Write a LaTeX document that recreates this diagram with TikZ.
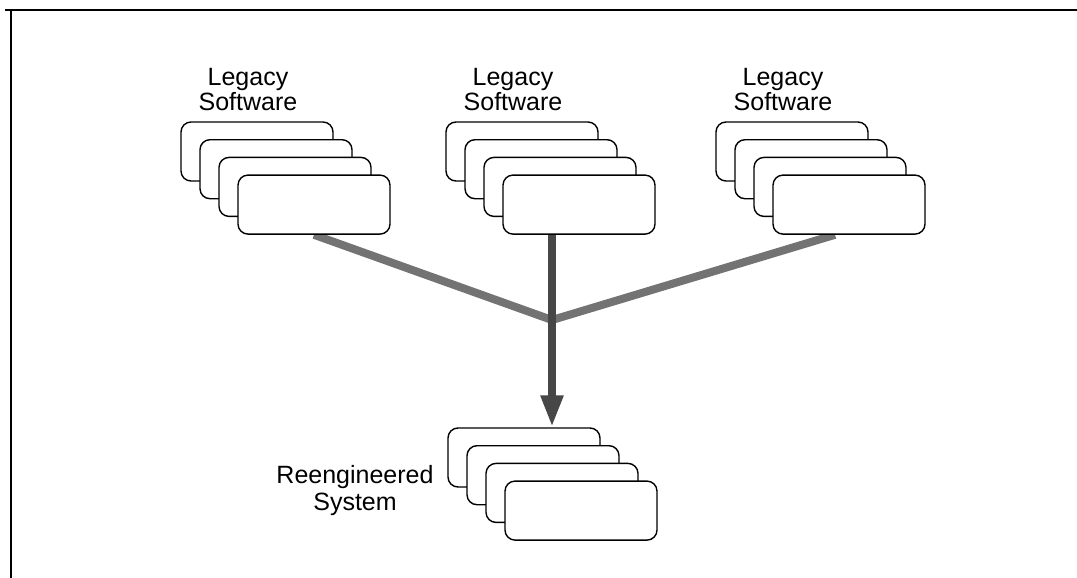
\documentclass[tikz,border=0pt]{standalone}
\usepackage{fontspec}
\setmainfont{Liberation Sans}
\usetikzlibrary{arrows.meta,backgrounds}
\tikzset{
  box/.style={draw=black, fill=white, line width=1.4pt, rounded corners=10pt,
              minimum width=152pt, minimum height=59pt, inner sep=0pt},
  label/.style={align=center, inner sep=0pt, anchor=north},
  feed/.style={line width=8pt, draw=black!55},
  main/.style={line width=8pt, draw=black!72,
               -{Triangle[length=32pt,width=21pt,fill=black!80]}},
  frame/.style={line width=2.4pt, draw=black}
}
\begin{document}
\begin{tikzpicture}[x=1pt,y=-1pt]
\useasboundingbox (0,0) rectangle (1077,578);
% frame
\draw[frame] (5,10) -- (1077,10);
\draw[frame] (11,10) -- (11,578);
% stacks of boxes
\foreach \n/\x/\y in {L/257/151.5, M/522/151.5, R/792/151.5, B/524/457.5}{
  \foreach \i in {0,1,2,3}{
    \node[box] (\n\i) at ({\x+19*\i},{\y+17.7*\i}) {};
  }
}
% labels
\node[label, font=\fontsize{25}{25.5}\selectfont] (tL) at (248,68) {Legacy\\Software};
\node[label, font=\fontsize{25}{25.5}\selectfont] (tM) at (513,68) {Legacy\\Software};
\node[label, font=\fontsize{25}{25.5}\selectfont] (tR) at (783,68) {Legacy\\Software};
\node[label, font=\fontsize{25}{27}\selectfont] (tB) at (355,465) {Reengineered\\System};
% junction
\coordinate (j) at (552,320);
\begin{scope}[on background layer]
  \draw[feed] (L3.south) -- (j);
  \draw[feed] ([xshift=-14pt]R3.south) -- (j);
  \draw[main] (j |- M3.south) -- (j |- B0.north);
\end{scope}
\end{tikzpicture}
\end{document}
